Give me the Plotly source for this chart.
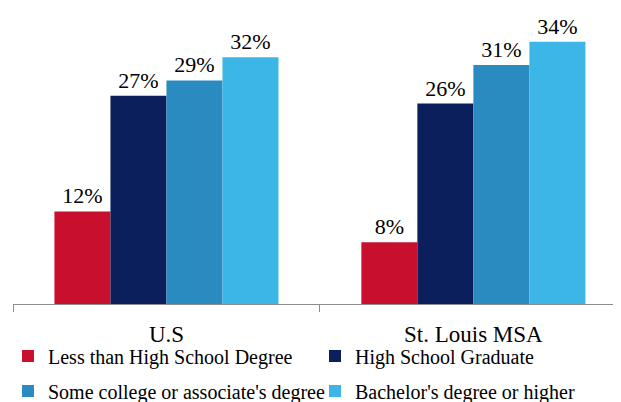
import plotly.graph_objects as go

categories = ["U.S", "St. Louis MSA"]
series_names = [
    "Less than High School Degree",
    "High School Graduate",
    "Some college or associate's degree",
    "Bachelor's degree or higher",
]
less_than_hs = [12, 8]
hs_graduate = [27, 26]
some_college = [29, 31]
bachelors = [32, 34]
colors = ["#C8102E", "#0A1F5C", "#2A8BC1", "#3BB6E6"]
legend_ids = ["legend", "legend", "legend2", "legend2"]

FONT = "Liberation Serif"

fig = go.Figure()
for name, vals, col, lg in zip(series_names, [less_than_hs, hs_graduate, some_college, bachelors], colors, legend_ids):
    fig.add_trace(go.Bar(
        x=categories, y=vals, name=name,
        marker=dict(color=col, line=dict(width=0)),
        text=[f"{v}%" for v in vals],
        textposition="outside",
        textfont=dict(family=FONT, size=22, color="#000000"),
        cliponaxis=False,
        legend=lg,
    ))

legend_common = dict(
    orientation="h",
    xref="container", yref="container",
    xanchor="left", yanchor="middle",
    font=dict(family=FONT, size=20, color="#000000"),
    entrywidth=262, entrywidthmode="pixels",
    itemwidth=30,
    bgcolor="rgba(0,0,0,0)",
    traceorder="normal",
)

fig.update_layout(
    width=621, height=402,
    margin=dict(l=5, r=0, t=3, b=106, autoexpand=False),
    paper_bgcolor="white", plot_bgcolor="white",
    barmode="group", bargap=0.27, bargroupgap=0,
    font=dict(family=FONT, color="#000000"),
    showlegend=True,
    legend=dict(x=0.0, y=1 - 348 / 402, **legend_common),
    legend2=dict(x=0.0, y=1 - 383 / 402, **legend_common),
    xaxis=dict(
        range=[-0.5, 1.507],
        showline=True, linecolor="#8C8C8C", linewidth=1,
        ticks="outside", tickson="boundaries", ticklen=7, tickcolor="#8C8C8C",
        tickfont=dict(family=FONT, size=23, color="#000000"),
        ticklabelstandoff=9,
        showgrid=False, zeroline=False,
    ),
    yaxis=dict(range=[0, 38], visible=False, showgrid=False, zeroline=False),
)

fig.write_html("out.html")
